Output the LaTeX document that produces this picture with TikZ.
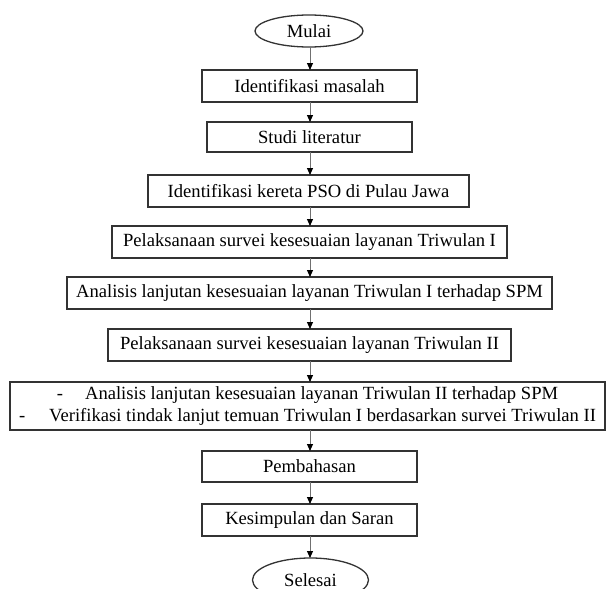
\documentclass[tikz,border=0pt]{standalone}
\usepackage{fontspec}
\setmainfont{Liberation Serif}
\usetikzlibrary{arrows.meta,shapes.geometric}
\definecolor{boxline}{HTML}{333333}
\definecolor{arrline}{HTML}{707070}
\begin{document}
\begin{tikzpicture}[x=1pt,y=-1pt,
  base/.style={draw=boxline,line width=1.3pt,inner sep=0pt,outer sep=0pt,
    font=\fontsize{18.6}{21.5}\selectfont,text=black},
  stepbox/.style={base,rectangle,minimum height=32pt},
  term/.style={base,ellipse,minimum height=32pt},
  arr/.style={draw=arrline,line width=0.9pt,-{Triangle[width=6pt,length=7pt,fill=black,color=black]}}]
\useasboundingbox (0,0) rectangle (606,589);
\node[term,minimum width=108pt] (s) at (309,31) {Mulai};
\node[stepbox,minimum width=215pt] (b1) at (309.5,86) {Identifikasi masalah};
\node[stepbox,minimum width=205pt,minimum height=30pt] (b2) at (309.5,137) {Studi literatur};
\node[stepbox,minimum width=321pt] (b3) at (308.5,191) {Identifikasi kereta PSO di Pulau Jawa};
\node[stepbox,minimum width=395pt] (b4) at (309.5,242) {Pelaksanaan survei kesesuaian layanan Triwulan I};
\node[stepbox,minimum width=485pt] (b5) at (309.5,293) {Analisis lanjutan kesesuaian layanan Triwulan I terhadap SPM};
\node[stepbox,minimum width=403pt] (b6) at (309.5,345) {Pelaksanaan survei kesesuaian layanan Triwulan II};
\node[stepbox,minimum width=595pt,minimum height=48pt,align=center] (b7) at (307.5,406)
  {-\hspace{22pt}Analisis lanjutan kesesuaian layanan Triwulan II terhadap SPM\\
   -\hspace{24pt}Verifikasi tindak lanjut temuan Triwulan I berdasarkan survei Triwulan II};
\node[stepbox,minimum width=215pt,minimum height=31pt] (b8) at (309.5,466.5) {Pembahasan};
\node[stepbox,minimum width=215pt] (b9) at (309.5,520) {Kesimpulan dan Saran};
\node[term,minimum width=116pt,minimum height=44pt] (e) at (310.5,580) {Selesai};
\coordinate (ax) at (310,0);
\foreach \a/\b in {s/b1,b1/b2,b2/b3,b3/b4,b4/b5,b5/b6,b6/b7,b7/b8,b8/b9,b9/e}{
  \draw[arr] (ax |- \a.south) -- (ax |- \b.north);
}
\end{tikzpicture}
\end{document}
